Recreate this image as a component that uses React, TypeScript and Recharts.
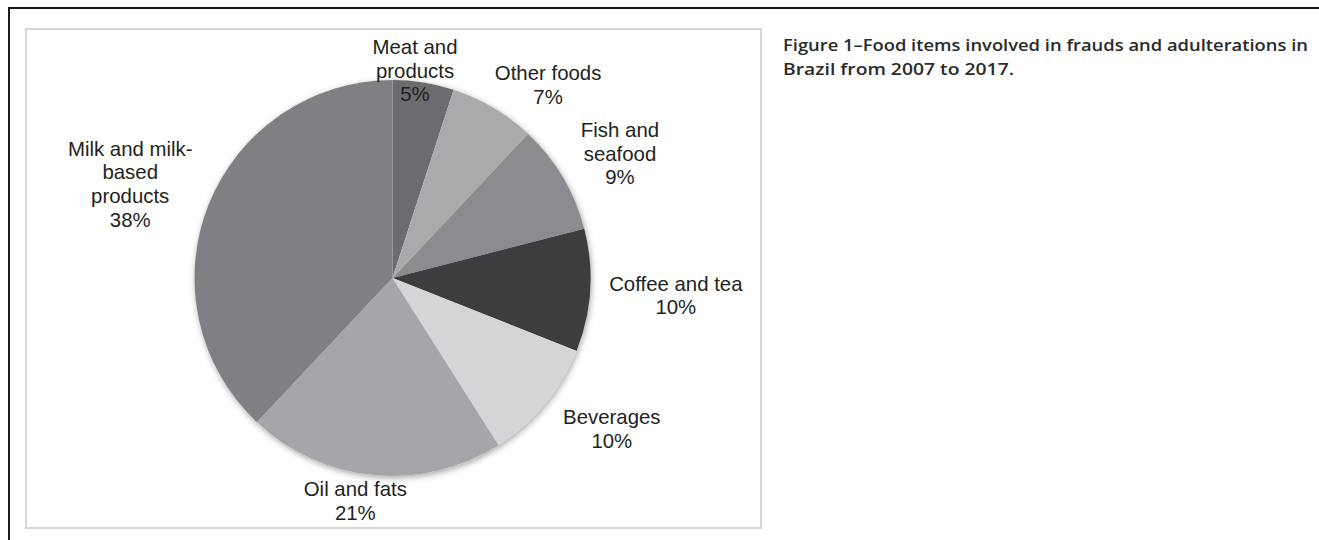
import React from 'react';
import { PieChart, Pie, Cell } from 'recharts';

// ---- data ----
const categories = [
  'Meat and products',
  'Other foods',
  'Fish and seafood',
  'Coffee and tea',
  'Beverages',
  'Oil and fats',
  'Milk and milk-based products',
];
const labelLines = [
  ['Meat and', 'products'],
  ['Other foods'],
  ['Fish and', 'seafood'],
  ['Coffee and tea'],
  ['Beverages'],
  ['Oil and fats'],
  ['Milk and milk-', 'based', 'products'],
];
const shares = [5, 7, 9, 10, 10, 21, 38];
const sliceColors = ['#6b6c6f', '#a8aaac', '#8b8c8f', '#3d3d40', '#d4d5d7', '#a4a6a9', '#7f8083'];
const captionLines = ['Figure 1\u2013Food items involved in frauds and adulterations in', 'Brazil from 2007 to 2017.'];

// label layout tweaks (Excel-like placement)
const labelNudges: [number, number][] = [
  [-17.5, 40],
  [17.6, 12.4],
  [7.3, 2.9],
  [-2.5, 2.5],
  [18.3, -1],
  [-11.2, -14.7],
  [4, 2.5],
];

const pieData = categories.map((name, i) => ({ name, value: shares[i] }));
const backdrop = [{ name: 'all', value: 1 }];

const RAD = Math.PI / 180;
const FONT = 20.4;
const LINE = 23.6;

const renderLabel = (p: any) => {
  const { cx, cy, midAngle, outerRadius, index } = p;
  const lines = [...labelLines[index], `${shares[index]}%`];
  const ux = Math.cos(midAngle * RAD);
  const uy = -Math.sin(midAngle * RAD);
  const r = outerRadius + 17;
  const maxLen = Math.max(...lines.map((l) => l.length));
  const w = maxLen * 10.2;
  const h = lines.length * LINE;
  const [nx, ny] = labelNudges[index];
  const bx = cx + ux * r + (ux * w) / 2 + nx;
  const by = cy + uy * r + (uy * h) / 2 + ny;
  const n = lines.length;
  return (
    <g key={`lbl-${index}`}>
      {lines.map((l, i) => (
        <text
          key={i}
          x={bx}
          y={by + (i - (n - 1) / 2) * LINE + 0.35 * FONT}
          textAnchor="middle"
          fontFamily="'Liberation Sans', Arial, sans-serif"
          fontSize={FONT}
          fill="#231f20"
        >
          {l}
        </text>
      ))}
    </g>
  );
};

export default function App() {
  return (
    <div style={{ position: 'absolute', left: 0, top: 0, width: 1319, height: 540, background: '#fff', overflow: 'hidden' }}>
      <style>{`.pie-shadow path { filter: drop-shadow(1px 2px 3px rgba(0,0,0,0.35)); }`}</style>
      {/* outer frame: top + left rules */}
      <div style={{ position: 'absolute', left: 8, top: 7, width: 1330, height: 560, borderTop: '2px solid #1c1c1c', borderLeft: '2px solid #1c1c1c' }} />
      {/* inner chart frame */}
      <div style={{ position: 'absolute', left: 25, top: 28, width: 733, height: 497, border: '2px solid #d6d6d6' }} />
      <div style={{ position: 'absolute', left: 0, top: 0 }}>
        <PieChart width={1319} height={540} margin={{ top: 0, right: 0, bottom: 0, left: 0 }}>
          <Pie
            data={backdrop}
            dataKey="value"
            cx={392.5}
            cy={278}
            outerRadius={198}
            startAngle={90}
            endAngle={-270}
            stroke="none"
            fill="#ffffff"
            className="pie-shadow"
            isAnimationActive={false}
          />
          <Pie
            data={pieData}
            dataKey="value"
            nameKey="name"
            cx={392.5}
            cy={278}
            outerRadius={198}
            startAngle={90}
            endAngle={-270}
            stroke="none"
            labelLine={false}
            label={renderLabel}
            isAnimationActive={false}
          >
            {pieData.map((d, i) => (
              <Cell key={d.name} fill={sliceColors[i]} stroke="none" />
            ))}
          </Pie>
        </PieChart>
      </div>
      <svg width={1319} height={540} style={{ position: 'absolute', left: 0, top: 0, pointerEvents: 'none' }}>
        <text x={783} y={51} fontFamily="'Open Sans', 'Noto Sans', sans-serif" fontWeight={600} fontSize={17} fill="#2a2a2a" textLength={525} lengthAdjust="spacingAndGlyphs">
          {captionLines[0]}
        </text>
        <text x={783} y={74.5} fontFamily="'Open Sans', 'Noto Sans', sans-serif" fontWeight={600} fontSize={17} fill="#2a2a2a" textLength={231} lengthAdjust="spacingAndGlyphs">
          {captionLines[1]}
        </text>
      </svg>
    </div>
  );
}
